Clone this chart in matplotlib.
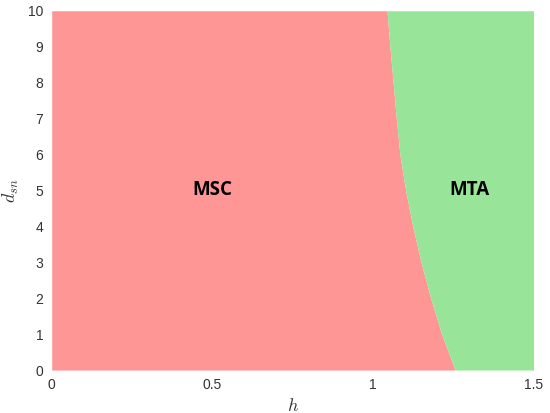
import numpy as np
import matplotlib
matplotlib.use("Agg")
import matplotlib.pyplot as plt

# Boundary between regions
d_sn = [0, 1, 2, 3, 4, 5, 6, 7, 8, 9, 10]
h_boundary = [1.256, 1.214, 1.180, 1.150, 1.124, 1.102, 1.084, 1.073, 1.063, 1.053, 1.044]
h_max = 1.5
regions = ["MSC", "MTA"]
label_pos_h = [0.5, 1.30]
label_pos_d = [5, 5]
xticks = [0, 0.5, 1, 1.5]
xticklabels = ["0", "0.5", "1", "1.5"]
yticks = list(range(0, 11))

plt.rcParams['mathtext.fontset'] = 'cm'
fig = plt.figure(figsize=(5.5, 4.13), dpi=100)
ax = fig.add_axes([0.094, 0.104, 0.876, 0.870])

red = "#FF9696"
green = "#98E498"
ax.fill_betweenx(d_sn, 0, h_boundary, color=red, linewidth=0)
ax.fill_betweenx(d_sn, h_boundary, h_max, color=green, linewidth=0)

for name, xh, yd in zip(regions, label_pos_h, label_pos_d):
    ax.text(xh, yd, name, ha="center", va="center", fontsize=13.5,
            fontweight="bold", family=["Open Sans", "DejaVu Sans"], color="black")

ax.set_xlim(0, 1.5)
ax.set_ylim(0, 10)
ax.set_xticks(xticks)
ax.set_xticklabels(xticklabels)
ax.set_yticks(yticks)
ax.tick_params(length=0, labelsize=10, labelcolor="#333333", pad=6)
for lab in ax.get_xticklabels() + ax.get_yticklabels():
    lab.set_family(["Liberation Sans", "DejaVu Sans"])
for s in ax.spines.values():
    s.set_visible(False)
ax.set_xlabel("$h$", fontsize=13, color="#333333", labelpad=3)
ax.set_ylabel("$d_{sn}$", fontsize=13, color="#333333", labelpad=5)

fig.savefig("out.png", dpi=100)
